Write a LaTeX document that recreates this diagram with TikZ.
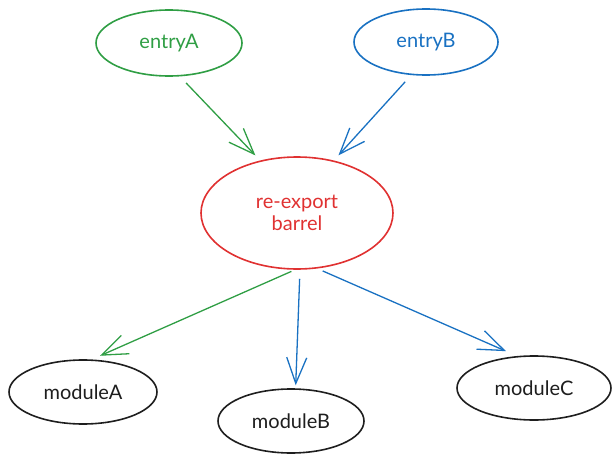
\documentclass[tikz,border=0pt]{standalone}
\usepackage{fontspec}
\setmainfont{Lato}
\usetikzlibrary{shapes.geometric,arrows.meta}
\definecolor{sketchgreen}{HTML}{2F9E44}
\definecolor{sketchblue}{HTML}{1971C2}
\definecolor{sketchred}{HTML}{E03131}
\definecolor{sketchblack}{HTML}{1E1E1E}
\begin{document}
\begin{tikzpicture}[x=1pt,y=-1pt]
\tikzstyle{every node}+=[inner sep=0pt]
\tikzstyle{oval}=[draw, ellipse, line width=1.6pt, font=\fontsize{20}{22}\selectfont, align=center]
\tikzstyle{link}=[line width=1.3pt, -{Straight Barb[length=26pt,width=20pt]}]
\useasboundingbox (0,0) rectangle (614,463);
\node [oval, sketchgreen, minimum width=146pt, minimum height=66pt] (entryA) at (169,43) {entryA};
\node [oval, sketchblue, minimum width=144pt, minimum height=66pt] (entryB) at (426,42) {entryB};
\node [oval, sketchred, minimum width=192pt, minimum height=112pt] (barrel) at (297,213) {re-export\\barrel};
\node [oval, sketchblack, minimum width=148pt, minimum height=64pt] (moduleA) at (83,392) {moduleA};
\node [oval, sketchblack, minimum width=146pt, minimum height=64pt] (moduleB) at (291,421) {moduleB};
\node [oval, sketchblack, minimum width=154pt, minimum height=64pt] (moduleC) at (534,388) {moduleC};
% Adding the arrows into and out of the barrel
\draw [link, sketchgreen, shorten <=9pt, shorten >=7pt] (entryA.-72) -- (barrel.125);
\draw [link, sketchblue, shorten <=9pt, shorten >=7pt] (entryB.-114) -- (barrel.55);
\draw [link, sketchgreen, shorten <=4pt, shorten >=9pt] (barrel.-92) -- (moduleA.75);
\draw [link, sketchblue, shorten <=9pt, shorten >=3pt] (barrel.-87) -- (moduleB.82);
\draw [link, sketchblue, shorten <=6pt, shorten >=12pt] (barrel.-70) -- (moduleC.118);
\end{tikzpicture}
\end{document}
